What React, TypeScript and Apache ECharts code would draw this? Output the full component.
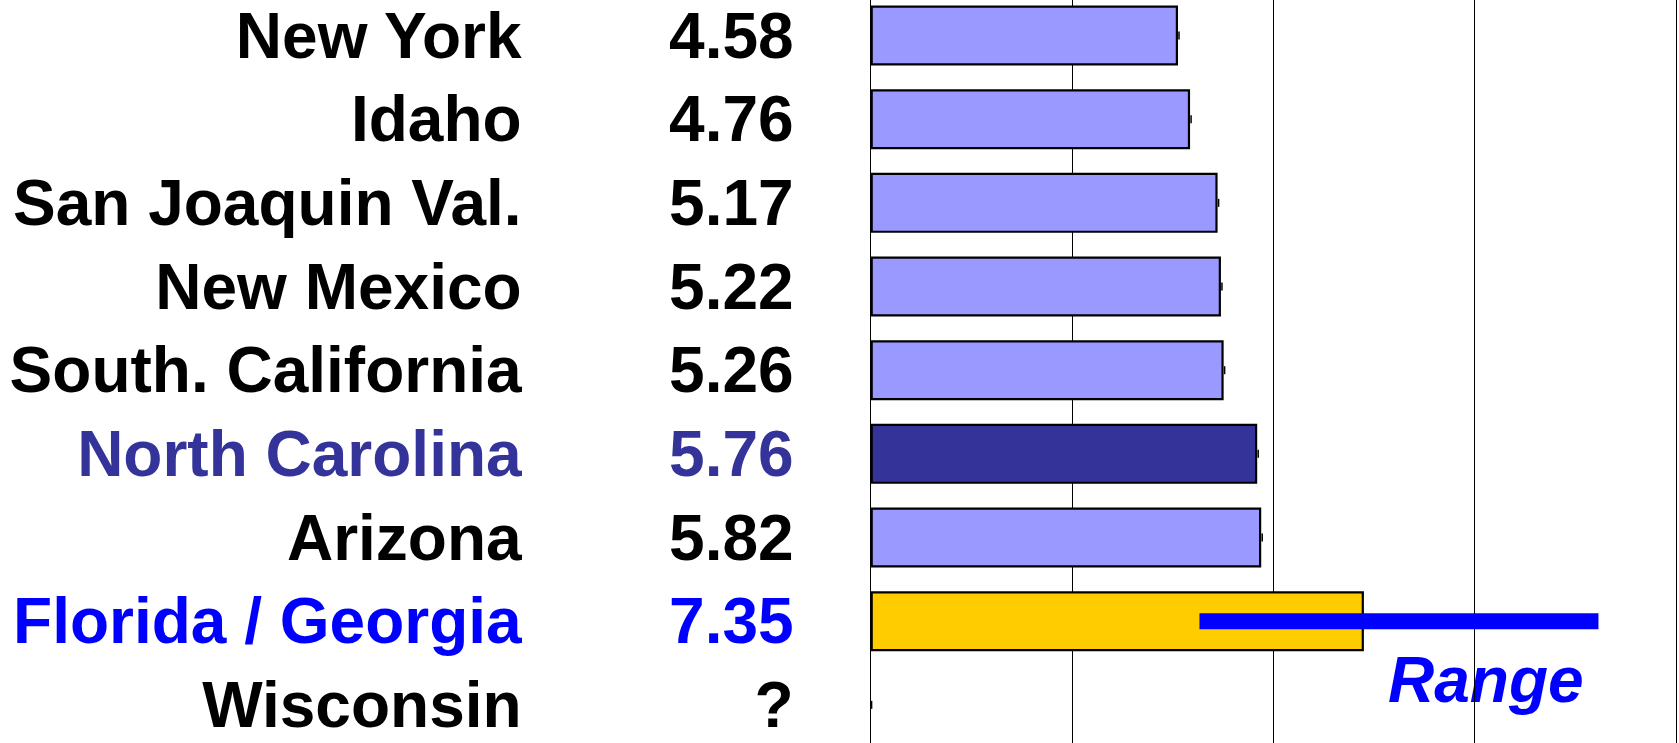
import React, { useEffect, useRef } from "react";
import * as echarts from "echarts";

const categories = [
  "New York",
  "Idaho",
  "San Joaquin Val.",
  "New Mexico",
  "South. California",
  "North Carolina",
  "Arizona",
  "Florida / Georgia",
  "Wisconsin",
];
const values: (number | null)[] = [4.58, 4.76, 5.17, 5.22, 5.26, 5.76, 5.82, 7.35, null];
const valueLabels = ["4.58", "4.76", "5.17", "5.22", "5.26", "5.76", "5.82", "7.35", "?"];
const barColors = ["#9999FF", "#9999FF", "#9999FF", "#9999FF", "#9999FF", "#333399", "#9999FF", "#FFCC00", "#9999FF"];
const labelColors = ["#000000", "#000000", "#000000", "#000000", "#000000", "#333399", "#000000", "#0000FF", "#000000"];
const rangeRow = 7;
const rangeLow = 4.9;
const rangeHigh = 10.8;
const xTicks = [0, 3, 6, 9, 12];

const FONT = "'Liberation Sans', Arial, Helvetica, sans-serif";

export default function App() {
  const ref = useRef<HTMLDivElement>(null);
  useEffect(() => {
    document.body.style.margin = "0";
    document.body.style.overflow = "hidden";
    const chart = echarts.init(ref.current!, null, { renderer: "svg" });
    const errorEnds = values.map((v, i) => [i, i === rangeRow ? rangeHigh : v ?? 0]);
    const option: any = {
      animation: false,
      backgroundColor: "#ffffff",
      grid: {
        left: 870.6,
        top: -6.3,
        width: 805.4,
        height: 753,
        containLabel: false,
        outerBoundsMode: "none",
      },
      xAxis: {
        type: "value",
        min: xTicks[0],
        max: xTicks[xTicks.length - 1],
        interval: 3,
        axisLabel: { show: false },
        axisLine: { show: false },
        axisTick: { show: false },
        splitLine: { show: true, lineStyle: { color: "#000000", width: 1 } },
      },
      yAxis: [
        {
          type: "category",
          data: categories,
          inverse: true,
          axisTick: { show: false },
          axisLine: { show: true, lineStyle: { color: "#000000", width: 1 } },
          axisLabel: {
            margin: 349,
            fontFamily: FONT,
            fontWeight: "bold",
            fontSize: 64,
            padding: [4, 0, 0, 0],
            color: (_v: any, i: number) => labelColors[i],
          },
        },
        {
          type: "category",
          data: valueLabels,
          inverse: true,
          position: "left",
          axisTick: { show: false },
          axisLine: { show: false },
          axisLabel: {
            margin: 77,
            fontFamily: FONT,
            fontWeight: "bold",
            fontSize: 64,
            padding: [4, 0, 0, 0],
            color: (_v: any, i: number) => labelColors[i],
          },
        },
      ],
      series: [
        {
          type: "bar",
          yAxisIndex: 0,
          barWidth: 60,
          data: values.map((v, i) => ({
            value: v,
            itemStyle: { color: barColors[i], borderColor: "#000000", borderWidth: 2.2 },
          })),
        },
        {
          type: "custom",
          yAxisIndex: 0,
          encode: { x: 1, y: 0 },
          data: errorEnds,
          renderItem: (_p: any, api: any) => {
            const pt = api.coord([api.value(1), api.value(0)]);
            return {
              type: "line",
              shape: { x1: pt[0] + 1, y1: pt[1] - 4, x2: pt[0] + 1, y2: pt[1] + 4 },
              style: { stroke: "#000000", lineWidth: 1.5 },
            };
          },
          z: 3,
        },
        {
          type: "custom",
          yAxisIndex: 0,
          encode: { x: [1, 2], y: 0 },
          data: [[rangeRow, rangeLow, rangeHigh]],
          renderItem: (_p: any, api: any) => {
            const a = api.coord([api.value(1), api.value(0)]);
            const b = api.coord([api.value(2), api.value(0)]);
            return {
              type: "rect",
              shape: { x: a[0], y: a[1] - 8, width: b[0] - a[0] + 3, height: 16 },
              style: { fill: "#0000FF" },
            };
          },
          z: 4,
        },
      ],
      graphic: [
        {
          type: "text",
          left: 1388,
          top: 648,
          style: {
            text: "Range",
            fill: "#0000FF",
            font: `italic bold 64px ${FONT}`,
          },
        },
      ],
    };
    chart.setOption(option);
    return () => chart.dispose();
  }, []);
  return (
    <div
      ref={ref}
      style={{ position: "absolute", left: 0, top: 0, width: 1679, height: 743 }}
    />
  );
}
